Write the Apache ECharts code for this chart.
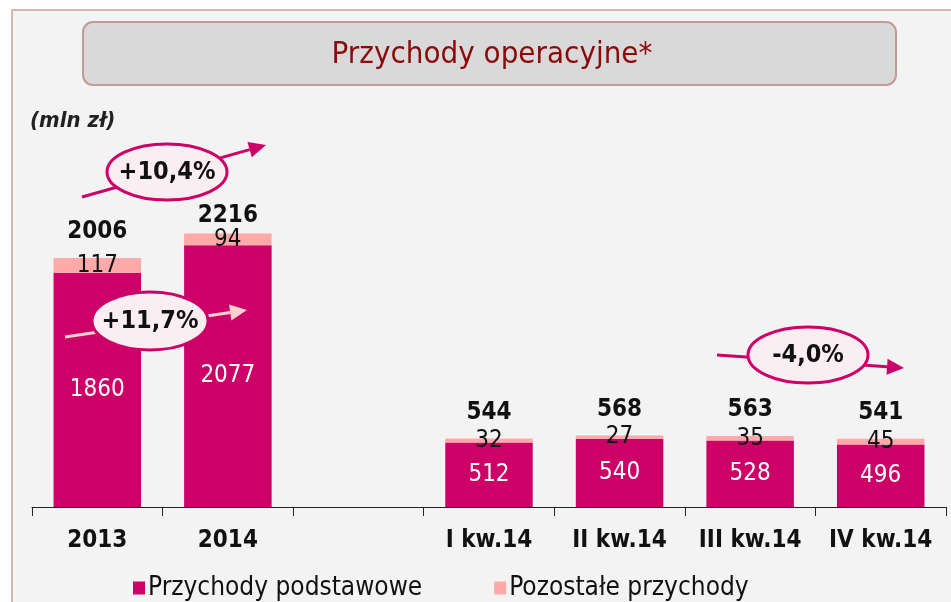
<!DOCTYPE html>
<html>
<head>
<meta charset="utf-8">
<script src="https://cdn.jsdelivr.net/npm/echarts@6/dist/echarts.min.js"></script>
<style>
  html, body { margin: 0; padding: 0; background: #fff; }
  #chart { width: 951px; height: 602px; }
</style>
</head>
<body>
<div id="chart"></div>
<script>
const categories = ['2013', '2014', '', 'I kw.14', 'II kw.14', 'III kw.14', 'IV kw.14'];
const podstawowe = [1860, 2077, null, 512, 540, 528, 496];
const pozostale = [117, 94, null, 32, 27, 35, 45];
const totals = [2006, 2216, null, 544, 568, 563, 541];

const MAGENTA = '#cc0066';
const PINK = '#ffa9a9';
const FONT = '"DejaVu Sans Condensed", "DejaVu Sans", sans-serif';

const chart = echarts.init(document.getElementById('chart'));

// strzałka: linia + grot
function arrow(x1, y1, x2, y2, color) {
  const dx = x2 - x1, dy = y2 - y1;
  const len = Math.sqrt(dx * dx + dy * dy);
  const ux = dx / len, uy = dy / len;
  const hl = 17, hw = 8;
  const bx = x2 - ux * hl, by = y2 - uy * hl;
  return [
    { type: 'line', z: 50, shape: { x1: x1, y1: y1, x2: bx, y2: by },
      style: { stroke: color, lineWidth: 3 } },
    { type: 'polygon', z: 50,
      shape: { points: [[x2, y2], [bx - uy * hw, by + ux * hw], [bx + uy * hw, by - ux * hw]] },
      style: { fill: color } }
  ];
}

function bubble(cx, cy, rx, ry, text) {
  return [
    { type: 'ellipse', z: 60, shape: { cx: cx, cy: cy, rx: rx, ry: ry },
      style: { fill: '#fbeef2', stroke: MAGENTA, lineWidth: 3 } },
    { type: 'text', z: 61, x: cx, y: cy,
      style: { text: text, fill: '#111', font: 'bold 25px ' + FONT, align: 'center', verticalAlign: 'middle' } }
  ];
}

const stackTop = podstawowe.map((v, i) => v == null ? null : v + pozostale[i]);

const option = {
  animation: false,
  textStyle: { fontFamily: FONT },
  graphic: [
    { type: 'rect', z: -10, shape: { x: 12, y: 10, width: 960, height: 610 },
      style: { fill: '#f3f3f3', stroke: '#d5b5b5', lineWidth: 2 } },
    { type: 'rect', z: -5, shape: { x: 83, y: 22, width: 813, height: 63, r: 10 },
      style: { fill: '#d9d9d9', stroke: '#c29a9a', lineWidth: 2 } },
    { type: 'text', z: -4, x: 492, y: 55,
      style: { text: 'Przychody operacyjne*', fill: '#8b0a0a', font: '31px ' + FONT, align: 'center', verticalAlign: 'middle' } },
    { type: 'text', x: 30, y: 121,
      style: { text: '(mln zł)', fill: '#222', font: 'italic bold 22px ' + FONT, verticalAlign: 'middle' } },
    ...arrow(82, 197, 266, 145, MAGENTA),
    ...bubble(167, 172, 60, 28, '+10,4%'),
    ...arrow(65, 337, 247, 310, '#fdd0d0'),
    ...bubble(150, 321, 58, 29, '+11,7%'),
    ...arrow(717, 355, 904, 368, MAGENTA),
    ...bubble(808, 355, 60, 28, '-4,0%')
  ],
  grid: { left: 32, right: 5, top: 129, bottom: 95 },
  legend: {
    left: 128, top: 570, itemGap: 72, itemWidth: 12, itemHeight: 13,
    icon: 'rect',
    data: ['Przychody podstawowe', 'Pozostałe przychody'],
    textStyle: { fontSize: 26, color: '#111', fontFamily: FONT, padding: [0, 0, 0, -2] }
  },
  xAxis: {
    type: 'category',
    data: categories,
    axisLine: { lineStyle: { color: '#222', width: 1 } },
    axisTick: { show: true, alignWithLabel: false, length: 9, lineStyle: { color: '#222' } },
    axisLabel: { color: '#111', fontWeight: 'bold', fontSize: 24, margin: 22, interval: 0, fontFamily: FONT }
  },
  yAxis: { type: 'value', min: 0, max: 3000, show: false, splitLine: { show: false } },
  series: [
    {
      name: 'Przychody podstawowe', type: 'bar', stack: 's', barWidth: '67%',
      data: podstawowe, itemStyle: { color: MAGENTA },
      label: { show: true, position: 'inside', color: '#fff', fontSize: 24, fontFamily: FONT }
    },
    {
      name: 'Pozostałe przychody', type: 'bar', stack: 's',
      data: pozostale, itemStyle: { color: PINK },
      label: { show: true, position: 'inside', color: '#111', fontSize: 24, fontFamily: FONT }
    },
    {
      name: 'suma', type: 'bar', barGap: '-100%', barWidth: '67%', z: 1, silent: true,
      data: stackTop.map((v, i) => ({
        value: v,
        label: { distance: i === 1 ? 6 : 14 }
      })),
      itemStyle: { color: 'rgba(0,0,0,0)' },
      label: {
        show: true, position: 'top', color: '#111', fontWeight: 'bold', fontSize: 24, fontFamily: FONT,
        formatter: p => totals[p.dataIndex] == null ? '' : String(totals[p.dataIndex])
      }
    }
  ]
};

chart.setOption(option);
</script>
</body>
</html>
